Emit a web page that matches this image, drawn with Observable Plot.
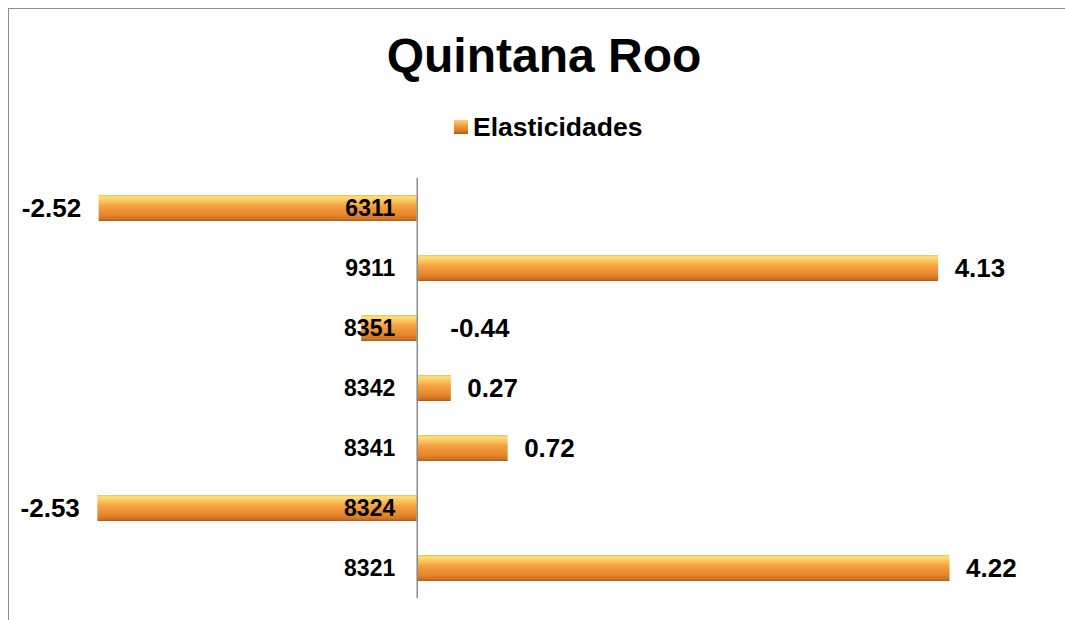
<!DOCTYPE html>
<html>
<head>
<meta charset="utf-8">
<script src="https://cdn.jsdelivr.net/npm/d3@7"></script>
<script src="https://cdn.jsdelivr.net/npm/@observablehq/plot@0.6"></script>
<style>
  html, body { margin: 0; padding: 0; width: 1065px; height: 620px; overflow: hidden; background: #fff; font-family: "Liberation Sans", Arial, sans-serif; }
  #frame { position: absolute; left: 8px; top: 8px; width: 1200px; height: 800px; border-left: 1.5px solid #8c8c8c; border-top: 1.5px solid #8c8c8c; }
  #title { position: absolute; left: 0; width: 1088px; top: 28px; text-align: center; font-weight: bold; font-size: 48px; line-height: 56px; color: #000; }
  #legend { position: absolute; left: 454px; top: 112px; height: 30px; display: flex; align-items: center; font-weight: bold; font-size: 26.5px; color: #000; }
  #legend .sw { width: 14px; height: 14px; margin-right: 5px; background: linear-gradient(to bottom, #fbd27a 0%, #f3a040 40%, #e0801f 75%, #a9591a 100%); }
  #chart { position: absolute; left: 0; top: 160px; }
</style>
</head>
<body>
<div id="frame"></div>
<div id="title">Quintana Roo</div>
<div id="legend"><div class="sw"></div><span>Elasticidades</span></div>
<div id="chart"></div>
<script>
const categories = ["6311", "9311", "8351", "8342", "8341", "8324", "8321"];
const values = [-2.52, 4.13, -0.44, 0.27, 0.72, -2.53, 4.22];
const seriesName = "Elasticidades";

const data = categories.map((c, i) => ({category: c, value: values[i]}));
const fmt = v => v.toFixed(2);
const posData = data.filter(d => d.value >= 0);
const bigNeg = data.filter(d => d.value < -1);
const smallNeg = data.filter(d => d.value < 0 && d.value >= -1);

const chart = Plot.plot({
  width: 1065,
  height: 460,
  marginLeft: 38,
  marginRight: 17,
  marginTop: 18,
  marginBottom: 22,
  x: {domain: [-3, 5], axis: null},
  y: {domain: categories, axis: null, paddingInner: 0.565, paddingOuter: 0.2825},
  marks: [
    Plot.barX(data, {x: "value", y: "category", fill: "url(#barGrad)", style: "filter: url(#barShadow)"}),
    Plot.ruleX([0], {stroke: "#8c8c8c", strokeWidth: 1.5}),
    Plot.text(data, {x: 0, y: "category", text: "category", dx: -22, textAnchor: "end", fontSize: 23, fontWeight: "bold", fill: "#000"}),
    Plot.text(posData, {x: "value", y: "category", text: d => fmt(d.value), dx: 16, textAnchor: "start", fontSize: 26, fontWeight: "bold", fill: "#000"}),
    Plot.text(bigNeg, {x: "value", y: "category", text: d => fmt(d.value), dx: -18, textAnchor: "end", fontSize: 26, fontWeight: "bold", fill: "#000"}),
    Plot.text(smallNeg, {x: 0, y: "category", text: d => fmt(d.value), dx: 33, textAnchor: "start", fontSize: 26, fontWeight: "bold", fill: "#000"})
  ]
});

const svg = d3.select(chart);
svg.style("font-family", "'Liberation Sans', Arial, sans-serif").style("overflow", "visible");
const defs = svg.insert("defs", ":first-child");
const g = defs.append("linearGradient").attr("id", "barGrad").attr("x1", 0).attr("y1", 0).attr("x2", 0).attr("y2", 1);
[[0, "#f3bc5e"], [0.08, "#fde07c"], [0.22, "#fbc75e"], [0.42, "#f4a142"], [0.75, "#e8882a"], [0.92, "#d07224"], [1, "#a95a1c"]]
  .forEach(([o, c]) => g.append("stop").attr("offset", o).attr("stop-color", c));
const f = defs.append("filter").attr("id", "barShadow").attr("x", "-5%").attr("y", "-20%").attr("width", "110%").attr("height", "160%");
f.append("feDropShadow").attr("dx", 1).attr("dy", 2).attr("stdDeviation", 1.5).attr("flood-color", "#000").attr("flood-opacity", 0.35);

document.getElementById("chart").appendChild(chart);
</script>
</body>
</html>
